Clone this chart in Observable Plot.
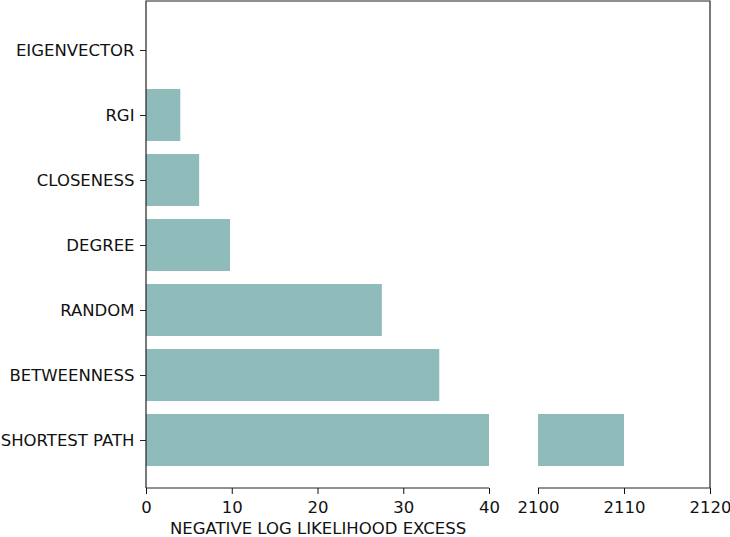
<!DOCTYPE html>
<html>
<head>
<meta charset="utf-8">
<script src="https://cdn.jsdelivr.net/npm/d3@7"></script>
<script src="https://cdn.jsdelivr.net/npm/@observablehq/plot@0.6"></script>
<style>
  html, body { margin: 0; padding: 0; background: #fff; overflow: hidden; }
  #chart { width: 730px; height: 537px; }
  svg { font-family: "DejaVu Sans", sans-serif; display: block; }
</style>
</head>
<body>
<div id="chart"></div>
<script>
const categories = ["EIGENVECTOR", "RGI", "CLOSENESS", "DEGREE", "RANDOM", "BETWEENNESS", "SHORTEST PATH"];
const values = [0, 4.0, 6.2, 9.8, 27.5, 34.2, 2110];
const leftDomain = [0, 40];
const rightDomain = [2100, 2120];
const xTicks = [0, 10, 20, 30, 40, 2100, 2110, 2120];
const xLabel = "NEGATIVE LOG LIKELIHOOD EXCESS";
const barColor = "#8fbbbb";

const data = categories.map((name, i) => ({name, value: values[i]}));

const spines = (index, scales, vals, dims) => {
  const x = scales.x;
  const top = dims.marginTop;
  const bottom = dims.height - dims.marginBottom;
  const xl = x(leftDomain[0]), xlb = x(leftDomain[1]);
  const xrb = x(rightDomain[0]), xr = x(rightDomain[1]);
  const g = d3.create("svg:g").attr("fill", "none").attr("stroke", "#222").attr("stroke-width", 1.2);
  g.append("path").attr("d", `M${xl},${bottom}V${top}H${xr}V${bottom}`);
  g.append("path").attr("d", `M${xl},${bottom}H${xlb}M${xrb},${bottom}H${xr}`);
  return g.node();
};

const fs = 16.5;
const chart = Plot.plot({
  width: 730,
  height: 537,
  marginLeft: 146,
  marginRight: 20,
  marginTop: 1,
  marginBottom: 49,
  style: {fontFamily: "DejaVu Sans, sans-serif", fontSize: fs + "px", color: "#111", background: "#fff"},
  x: {
    type: "linear",
    domain: [leftDomain[0], leftDomain[1], rightDomain[0], rightDomain[1]],
    range: [146, 489, 538, 710]
  },
  y: {
    type: "band",
    domain: categories,
    paddingInner: 0.2,
    paddingOuter: 0.34
  },
  marks: [
    Plot.barX(data, {y: "name", x1: () => leftDomain[0], x2: d => Math.min(d.value, leftDomain[1]), fill: barColor}),
    Plot.barX(data.filter(d => d.value > rightDomain[0]), {y: "name", x1: () => rightDomain[0], x2: "value", fill: barColor}),
    Plot.axisY({tickSize: 6, tickPadding: 6, label: null, fontSize: fs, stroke: "#222"}),
    Plot.axisX({ticks: xTicks, tickFormat: d => String(d), tickSize: 6, tickPadding: 7, label: null, fontSize: fs}),
    Plot.text([xLabel], {x: (leftDomain[0] + leftDomain[1]) / 2, frameAnchor: "bottom", dy: 45, text: d => d, fontSize: fs, fill: "#111"}),
    spines
  ]
});
document.getElementById("chart").appendChild(chart);
</script>
</body>
</html>
